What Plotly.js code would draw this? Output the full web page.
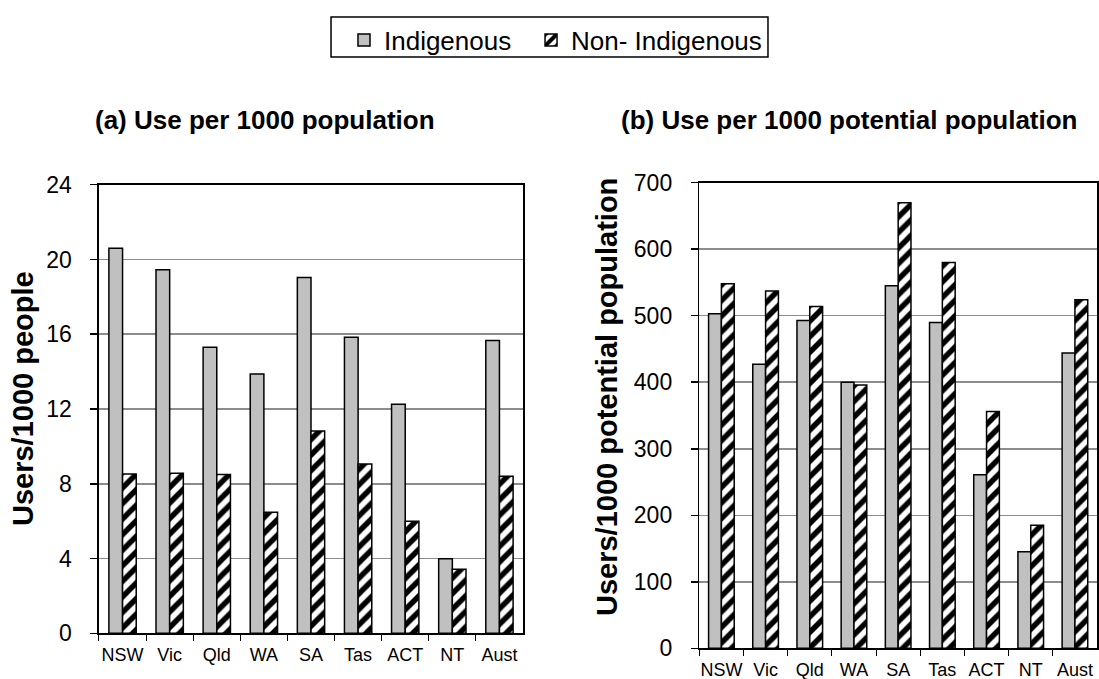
<!DOCTYPE html>
<html>
<head>
<meta charset="utf-8">
<script src="https://cdn.plot.ly/plotly-3.0.1.min.js"></script>
<style>html,body{margin:0;padding:0;background:#fff;}#chart{width:1099px;height:679px;}</style>
</head>
<body>
<div id="chart"></div>
<script>
const categories = ["NSW", "Vic", "Qld", "WA", "SA", "Tas", "ACT", "NT", "Aust"];
const seriesNames = ["Indigenous", "Non- Indigenous"];
// (a) Use per 1000 population
const useIndigenous = [20.6, 19.45, 15.3, 13.87, 19.03, 15.84, 12.25, 3.99, 15.66];
const useNonIndigenous = [8.52, 8.56, 8.5, 6.47, 10.82, 9.06, 5.99, 3.42, 8.4];
// (b) Use per 1000 potential population
const potIndigenous = [503, 427, 493, 400, 545, 490, 261, 145, 444];
const potNonIndigenous = [548, 537, 514, 396, 670, 580, 356, 185, 524];
const yTicksA = [0, 4, 8, 12, 16, 20, 24];
const yTicksB = [0, 100, 200, 300, 400, 500, 600, 700];
const titleA = "(a) Use per 1000 population";
const titleB = "(b) Use per 1000 potential population";
const yTitleA = "Users/1000 people";
const yTitleB = "Users/1000 potential population";

const FONT = "Liberation Sans, Arial, sans-serif";
const solidMarker = {color: "#C0C0C0", line: {color: "#000", width: 1.5}};
const hatchMarker = {color: "#fff", line: {color: "#000", width: 1.5},
  pattern: {shape: "/", fgcolor: "#000", bgcolor: "#fff", size: 11, solidity: 0.5}};

const traces = [
  {type: "bar", name: seriesNames[0], x: categories, y: useIndigenous, xaxis: "x", yaxis: "y", marker: solidMarker, legendgroup: "a", legend: "legend", showlegend: true},
  {type: "bar", name: seriesNames[1], x: categories, y: useNonIndigenous, xaxis: "x", yaxis: "y", marker: hatchMarker, legendgroup: "b", legend: "legend2", showlegend: true},
  {type: "bar", name: seriesNames[0], x: categories, y: potIndigenous, xaxis: "x2", yaxis: "y2", marker: solidMarker, legendgroup: "a", showlegend: false},
  {type: "bar", name: seriesNames[1], x: categories, y: potNonIndigenous, xaxis: "x2", yaxis: "y2", marker: hatchMarker, legendgroup: "b", showlegend: false}
];

const xCommon = {
  type: "category", showline: true, linecolor: "#000", linewidth: 1.5, mirror: true,
  ticks: "outside", tickson: "boundaries", ticklen: 6, tickcolor: "#000", tickwidth: 1,
  tickangle: 0, ticklabelstandoff: 5, tickfont: {family: FONT, size: 18, color: "#000"}, showgrid: false, fixedrange: true
};
const yCommon = {
  showline: true, linecolor: "#000", linewidth: 1.5, mirror: true,
  ticks: "outside", ticklen: 7, tickcolor: "#000", tickwidth: 1.5,
  tickfont: {family: FONT, size: 23, color: "#000"}, ticklabelstandoff: 14,
  showgrid: true, gridcolor: "#8c8c8c", gridwidth: 1.5, zeroline: false, fixedrange: true
};
const legendCommon = {orientation: "h", xanchor: "left", y: 0.941, yanchor: "middle",
  font: {family: FONT, size: 26, color: "#000"}, bgcolor: "rgba(0,0,0,0)", borderwidth: 0,
  itemclick: false, itemdoubleclick: false};

const layout = {
  width: 1099, height: 679,
  margin: {l: 0, r: 0, t: 0, b: 0, autoexpand: false},
  paper_bgcolor: "#fff", plot_bgcolor: "#fff",
  font: {family: FONT, color: "#000"},
  barmode: "group", bargap: 0.42, bargroupgap: 0,
  showlegend: true,
  legend: Object.assign({}, legendCommon, {x: 0.3130}),
  legend2: Object.assign({}, legendCommon, {x: 0.4832}),
  xaxis: Object.assign({}, xCommon, {domain: [0.09008, 0.47589], anchor: "y"}),
  yaxis: Object.assign({}, yCommon, {domain: [0.06731, 0.72798], anchor: "x", range: [0, 24], tickvals: yTicksA}),
  xaxis2: Object.assign({}, xCommon, {domain: [0.63631, 0.9982], anchor: "y2"}),
  yaxis2: Object.assign({}, yCommon, {domain: [0.04521, 0.73093], anchor: "x2", range: [0, 700], tickvals: yTicksB}),
  shapes: [
    {type: "rect", xref: "paper", yref: "paper", x0: 0.3012, x1: 0.6988, y0: 0.916, y1: 0.975,
     line: {color: "#000", width: 1.5}, fillcolor: "rgba(0,0,0,0)"}
  ],
  annotations: [
    {text: "<b>" + titleA + "</b>", xref: "paper", yref: "paper", x: 0.2411, y: 0.8233, xanchor: "center", yanchor: "middle", showarrow: false, font: {family: FONT, size: 26}},
    {text: "<b>" + titleB + "</b>", xref: "paper", yref: "paper", x: 0.7734, y: 0.8233, xanchor: "center", yanchor: "middle", showarrow: false, font: {family: FONT, size: 26}},
    {text: "<b>" + yTitleA + "</b>", xref: "paper", yref: "paper", x: 0.0209, y: 0.4138, xanchor: "center", yanchor: "middle", textangle: -90, showarrow: false, font: {family: FONT, size: 29}},
    {text: "<b>" + yTitleB + "</b>", xref: "paper", yref: "paper", x: 0.5523, y: 0.4153, xanchor: "center", yanchor: "middle", textangle: -90, showarrow: false, font: {family: FONT, size: 29}}
  ]
};

Plotly.newPlot("chart", traces, layout, {displayModeBar: false, staticPlot: true});
</script>
</body>
</html>
